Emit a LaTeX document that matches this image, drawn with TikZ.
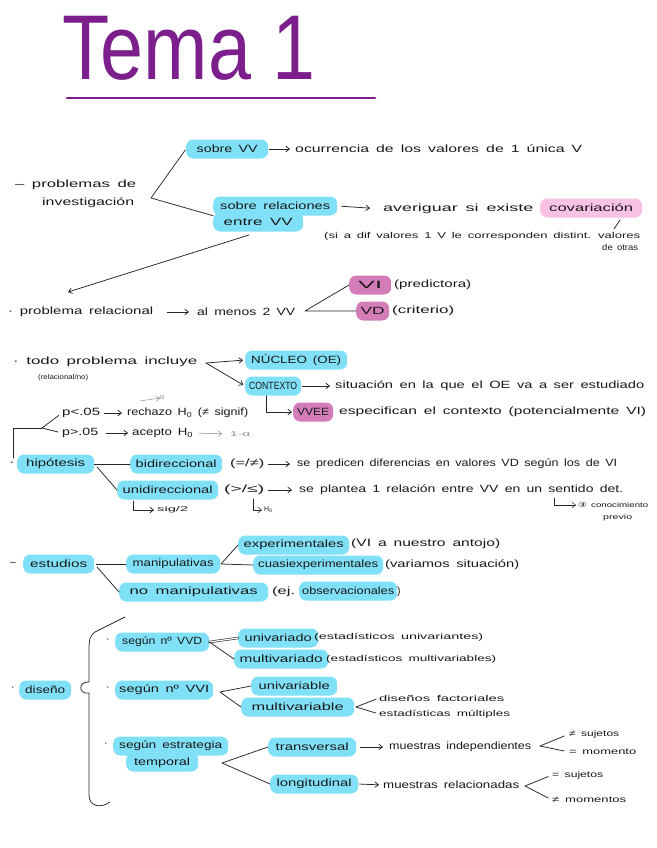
\documentclass[tikz,border=0pt]{standalone}
\usepackage{fontspec}
\usepackage{graphicx}
\setmainfont{Liberation Sans}[WordSpace=1.6]
\newfontfamily\titlefont{Liberation Sans}
\newfontfamily\symfont{DejaVu Sans}
\usetikzlibrary{arrows.meta}
\definecolor{hlc}{RGB}{128,224,247}
\definecolor{hlm}{RGB}{211,124,184}
\definecolor{hlp}{RGB}{248,194,228}
\definecolor{tpurple}{RGB}{124,30,140}
\newcommand\fw[2]{\resizebox{#1pt}{\height}{#2}}
\newcommand\nsz{\fontsize{10.5}{12}\selectfont}
\newcommand\ssz{\fontsize{8.5}{10}\selectfont}
\newcommand\tsz{\fontsize{7}{8}\selectfont}
\tikzset{
 hl/.style={fill=hlc, rounded corners=7pt, inner sep=0pt, minimum height=19pt, anchor=west, text=black!90, font=\nsz},
 hm/.style={hl, fill=hlm},
 hp/.style={hl, fill=hlp},
 tx/.style={anchor=west, inner sep=0pt, text=black!90, font=\nsz},
 sm/.style={tx, font=\ssz},
 tn/.style={tx, font=\tsz},
 ln/.style={draw=black!85, line width=0.75pt},
 ar/.style={ln, -{Straight Barb[length=3.5pt,width=5.5pt]}},
 gr/.style={text=black!45},
}
\begin{document}
\begin{tikzpicture}[x=1pt,y=-1pt, line cap=round, line join=round]
\fill[white] (0,0) rectangle (656,848);
\useasboundingbox (0,0) rectangle (656,848);

% title
\node[anchor=base west, inner sep=0pt, text=tpurple, font=\titlefont\fontsize{92}{92}\selectfont, xscale=0.84] (title) at (62,80) {Tema 1};
\coordinate (ul1) at (67,98); \coordinate (ul2) at (375,98);
\draw[tpurple, line width=2.8pt] (ul1) -- (ul2);

% section 1
\node[tx] (prob1a) at (15,185) {\fw{121}{– problemas de}};
\node[tx] (prob1b) at (42,203) {\fw{92}{investigación}};
\coordinate (f1) at (151,198);
\node[hl, minimum width=82pt] (svv) at (186,149) {\fw{61}{sobre VV}};
\node[tx] (ocur) at (295,149) {\fw{287}{ocurrencia de los valores de 1 única V}};
\draw[ar, shorten <=1pt, shorten >=5pt] (svv.east) -- (ocur.west);
\node[hl, minimum width=90pt] (rel2) at (213,222) {\fw{69}{entre VV}};
\node[hl, minimum width=124pt] (rel1) at (213,206) {\fw{110}{sobre relaciones}};
\draw[ln, shorten <=1pt] (svv.west) -- (f1) -- (rel1.south west);
\node[tx] (averig) at (383,209) {\fw{150}{averiguar si existe}};
\draw[ar, shorten <=4pt, shorten >=13pt] (rel1.east) -- (averig.west);
\node[hp, minimum width=102pt] (cov) at (540,208) {\fw{84}{covariación}};
\node[sm] (par1) at (324,236) {\fw{316}{(si a dif valores 1 V le corresponden distint. valores}};
\node[sm] (par2) at (602,247) {\fw{36}{de otras}};
\coordinate (tk1) at (614,229); \coordinate (tk2) at (620,220);
\draw[ln] (tk1) -- (tk2);
\coordinate (la1) at (249,235); \coordinate (la2) at (68,292);
\draw[ar] (la1) -- (la2);

% section 2
\node[tx] (relprob) at (8,312) {\fw{145}{· problema relacional}};
\node[tx] (menos) at (197,312) {\fw{98}{al menos 2 VV}};
\draw[ar, shorten <=14pt, shorten >=8pt] (relprob.east) -- (menos.west);
\coordinate (f2) at (305,311);
\node[hm, minimum width=42pt] (vi) at (349,285) {\fw{24}{VI}};
\node[hm, minimum width=33pt] (vd) at (356,311) {\fw{24}{VD}};
\draw[ln] (vi.west) -- (f2) -- (vd.west);
\node[tx] (pred) at (394,285) {\fw{77}{(predictora)}};
\node[tx] (crit) at (392,311) {\fw{62}{(criterio)}};

% section 3
\node[tx] (todo) at (13,362) {\fw{184}{· todo problema incluye}};
\node[tn] (todob) at (38,378) {\fw{50}{(relacional/no)}};
\coordinate (f3) at (206,363);
\node[hl, minimum width=102pt] (nucleo) at (245,360) {\fw{90}{NÚCLEO (OE)}};
\node[hl, minimum width=56pt] (ctx) at (245,386) {\fw{48}{CONTEXTO}};
\draw[ar, shorten >=2pt] (f3) -- (nucleo.west);
\draw[ar, shorten >=2pt] (f3) -- (ctx.west);
\node[tx] (situ) at (335,386) {\fw{309}{situación en la que el OE va a ser estudiado}};
\draw[ar, shorten <=1pt, shorten >=5pt] (ctx.east) -- (situ.west);
\node[hm, minimum width=40pt] (vvee) at (293,412) {\fw{32}{VVEE}};
\draw[ar, shorten >=1pt] ([xshift=-7pt]ctx.south) |- (vvee.west);
\node[tx] (espec) at (339,412) {\fw{307}{especifican el contexto (potencialmente VI)}};

% p-values
\node[tx] (p1) at (62,413) {\fw{38}{p<.05}};
\node[tx] (rech) at (127,413) {\fw{121}{rechazo H\textsubscript{0} (≠ signif)}};
\draw[ar, shorten <=4pt, shorten >=5pt] (p1.east) -- (rech.west);
\node[tn, gr] (alph) at (160,398) {α};
\coordinate (al0) at (140,401);
\draw[ar, draw=black!45, line width=0.5pt] (al0) -- (alph.west);
\node[tx] (p2) at (62,433) {\fw{36}{p>.05}};
\node[tx] (acep) at (132,433) {\fw{61}{acepto H\textsubscript{0}}};
\draw[ar, shorten <=8pt, shorten >=4pt] (p2.east) -- (acep.west);
\node[tn, gr] (om) at (230,434) {\fw{20}{1-α}};
\draw[ar, draw=black!45, line width=0.5pt, shorten <=6pt, shorten >=8pt] (acep.east) -- (om.west);
\coordinate (pf) at (42,428); \coordinate (pc) at (13,428); \coordinate (pv) at (13,458);
\draw[ln] (pv) -- (pc) -- (pf);
\draw[ln, shorten <=4pt] (p1.west) -- (pf);
\draw[ln, shorten >=4pt] (pf) -- (p2.west);

% hipotesis
\node[tx] (hipd) at (10,464) {-};
\node[hl, minimum width=77pt] (hip) at (17,464) {\fw{59}{hipótesis}};
\node[hl, minimum width=92pt] (bid) at (130,464) {\fw{81}{bidireccional}};
\draw[ln] (hip.east) -- (bid.west);
\node[hl, minimum width=101pt] (uni) at (117,490) {\fw{90}{unidireccional}};
\coordinate (hf) at (97,467);
\draw[ln] (hf) -- (uni.west);
\node[tx] (bsym) at (230,464) {\fw{34}{(=/≠)}};
\node[tx] (btxt) at (297,464) {\fw{320}{se predicen diferencias en valores VD según los de VI}};
\draw[ar, shorten <=4pt, shorten >=7pt] (bsym.east) -- (btxt.west);
\node[tx] (usym) at (224,490) {\fw{40}{(>/≤)}};
\node[tx] (utxt) at (299,490) {\fw{324}{se plantea 1 relación entre VV en un sentido det.}};
\draw[ar, shorten <=4pt, shorten >=7pt] (usym.east) -- (utxt.west);
\coordinate (hk1) at (133,501);
\node[tn] (sig) at (157,510) {\fw{31}{sig/2}};
\draw[ar, shorten >=3pt] (hk1) |- (sig.west);
\coordinate (hk2) at (253,499);
\node[tn] (h0b) at (264,510) {H\textsubscript{0}};
\draw[ar, line width=0.5pt, shorten >=2pt] (hk2) |- (h0b.west);
\coordinate (hk3) at (554,498);
\node[tn] (cono) at (578,505) {\fw{70}{{\symfont ③} conocimiento}};
\node[tn] (previo) at (603,518) {\fw{29}{previo}};
\draw[ar, line width=0.5pt, shorten >=2pt] (hk3) |- (cono.west);

% estudios
\node[tx] (estd) at (10,564) {–};
\node[hl, minimum width=71pt] (est) at (23,564) {\fw{57}{estudios}};
\node[hl, minimum width=94pt] (manip) at (126,564) {\fw{81}{manipulativas}};
\draw[ln, shorten <=2pt] (est.east) -- (manip.west);
\node[hl, minimum width=149pt] (noman) at (119,592) {\fw{128}{no manipulativas}};
\coordinate (ef) at (97,567);
\draw[ln] (ef) -- (noman.west);
\node[tx] (ej) at (272,592) {\fw{23}{(ej.}};
\node[hl, minimum width=98pt] (obs) at (299,591) {\fw{92}{observacionales}};
\node[tx] (cl) at (397,592) {)};
\coordinate (mf) at (221,564);
\node[hl, minimum width=130pt] (cuasi) at (253,565) {\fw{120}{cuasiexperimentales}};
\node[hl, minimum width=111pt] (exper) at (238,545) {\fw{100}{experimentales}};
\draw[ln] (exper.west) -- (mf) -- (cuasi.west);
\node[tx] (experp) at (351,544) {\fw{149}{(VI a nuestro antojo)}};
\node[tx] (cuasip) at (385,565) {\fw{134}{(variamos situación)}};

% diseno
\node[tx] (disd) at (11,689) {·};
\node[hl, minimum width=52pt] (dis) at (19,690) {\fw{40}{diseño}};
\coordinate (br0) at (125,617); \coordinate (br1) at (95,632);
\coordinate (br2) at (89,682); \coordinate (br3) at (89,693);
\coordinate (br4) at (110,802);
\draw[ln] (br0) -- (br1) .. controls (90,635) and (89,640) .. (89,650) -- (br2)
  .. controls (78,681) and (78,695) .. (br3) -- (89,795) .. controls (89,806) and (100,809) .. (br4);

\node[tx] (d1) at (106,641) {·};
\node[hl, minimum width=94pt] (vvd) at (115,642) {\fw{80}{según nº VVD}};
\node[hl, minimum width=94pt] (multv) at (234,659) {\fw{83}{multivariado}};
\node[hl, minimum width=80pt] (univ) at (238,638) {\fw{67}{univariado}};
\node[sm] (univp) at (314,637) {\fw{169}{(estadísticos univariantes)}};
\node[sm] (multvp) at (326,659) {\fw{170}{(estadísticos multivariables)}};
\draw[draw=black!85, line width=0.6pt, double distance=1.2pt] (vvd.east) -- (univ.west);
\draw[ln] (vvd.east) -- (multv.west);

\node[tx] (d2) at (106,689) {·};
\node[hl, minimum width=98pt] (vvi) at (115,690) {\fw{90}{según nº VVI}};
\coordinate (vf) at (220,692);
\node[hl, minimum width=113pt] (multb) at (241,707) {\fw{92}{multivariable}};
\node[hl, minimum width=86pt] (univb) at (251,686) {\fw{71}{univariable}};
\draw[ln] (univb.west) -- (vf) -- (multb.west);
\coordinate (mf2) at (356,707);
\node[sm] (fact) at (379,698) {\fw{125}{diseños factoriales}};
\node[sm] (estm) at (379,714) {\fw{131}{estadísticas múltiples}};
\draw[ln, shorten <=3pt] (fact.west) -- (mf2);
\draw[ln, shorten >=3pt] (mf2) -- (estm.west);

\node[tx] (d3) at (104,745) {·};
\node[hl, minimum width=72pt] (estr2) at (126,762) {};
\node[hl, minimum width=115pt] (estr1) at (113,746) {\fw{103}{según estrategia}};
\node[tx] (estr2t) at (134,763) {\fw{56}{temporal}};
\coordinate (tf) at (222,763);
\node[hl, minimum width=88pt] (trans) at (268,747) {\fw{73}{transversal}};
\node[hl, minimum width=88pt] (longi) at (270,784) {\fw{75}{longitudinal}};
\draw[ln] (trans.west) -- (tf) -- (longi.west);
\node[tx] (indep) at (389,747) {\fw{142}{muestras independientes}};
\draw[ar, shorten <=4pt, shorten >=6pt] (trans.east) -- (indep.west);
\node[tx] (relac) at (383,785) {\fw{136}{muestras relacionadas}};
\draw[ar, shorten <=1pt, shorten >=4pt] (longi.east) -- (relac.west);
\coordinate (if) at (540,746);
\node[sm] (suj1) at (569,734) {\fw{50}{≠ sujetos}};
\node[sm] (mom1) at (569,752) {\fw{67}{= momento}};
\draw[ln, shorten <=5pt] (suj1.west) -- (if);
\draw[ln, shorten >=5pt] (if) -- (mom1.west);
\coordinate (rf) at (525,786);
\node[sm] (suj2) at (552,775) {\fw{51}{= sujetos}};
\node[sm] (mom2) at (552,800) {\fw{74}{≠ momentos}};
\draw[ln, shorten <=4pt] (suj2.west) -- (rf);
\draw[ln, shorten >=4pt] (rf) -- (mom2.west);
\end{tikzpicture}
\end{document}
